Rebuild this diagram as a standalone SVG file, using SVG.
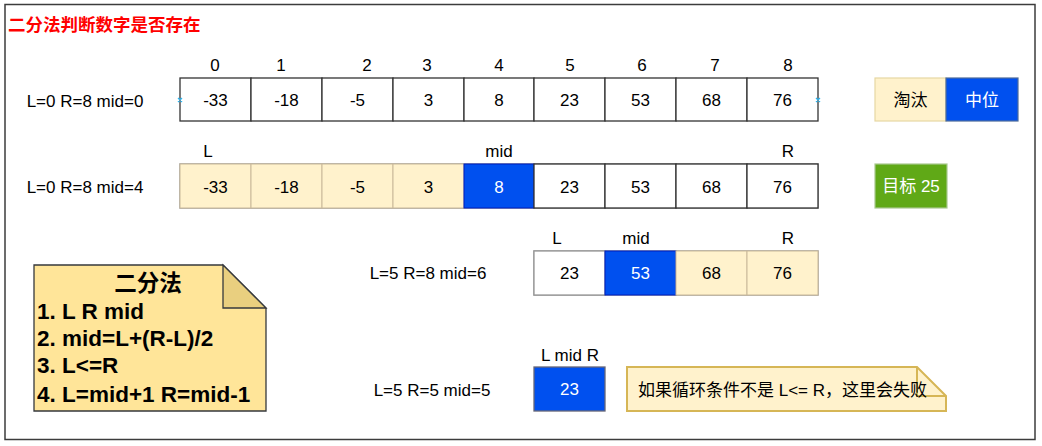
<svg xmlns="http://www.w3.org/2000/svg" width="1042" height="446" viewBox="0 0 1042 446">
<style>
text{font-family:"Liberation Sans",Arial,"Noto Sans CJK SC",sans-serif;font-size:17px;fill:#000}
.c{text-anchor:middle;dominant-baseline:central}
.w{fill:#fff}
.cell{fill:#fff;stroke:#333;stroke-width:1.3}
.elim{fill:#fff2cc;stroke:#c9b99a;stroke-width:1}
.mid{fill:#0050ef;stroke:#001dbc;stroke-width:1}
.nb{font-size:22.5px;font-weight:bold}
.x{stroke:#29b6f2;stroke-width:1.2}
</style>
<rect x="5" y="4.5" width="1030" height="435" fill="#fff" stroke="#3c3c3c" stroke-width="1.5"/>
<text x="8" y="31" style="font-size:17.5px;font-weight:bold;fill:#ff0000">二分法判断数字是否存在</text>

<g id="row1">
<text class="c" x="215" y="65">0</text><text class="c" x="281" y="65">1</text><text class="c" x="367" y="65">2</text><text class="c" x="427" y="65">3</text><text class="c" x="499" y="65">4</text><text class="c" x="570" y="65">5</text><text class="c" x="642" y="65">6</text><text class="c" x="715" y="65">7</text><text class="c" x="788" y="65">8</text>
<text class="c" x="85" y="101">L=0 R=8 mid=0</text>
<rect class="cell" x="180" y="78" width="71" height="43"/><text class="c" x="215.5" y="100">-33</text>
<rect class="cell" x="251" y="78" width="71" height="43"/><text class="c" x="286.5" y="100">-18</text>
<rect class="cell" x="322" y="78" width="71" height="43"/><text class="c" x="357.5" y="100">-5</text>
<rect class="cell" x="393" y="78" width="71" height="43"/><text class="c" x="428.5" y="100">3</text>
<rect class="cell" x="464" y="78" width="70" height="43"/><text class="c" x="499" y="100">8</text>
<rect class="cell" x="534" y="78" width="71" height="43"/><text class="c" x="569.5" y="100">23</text>
<rect class="cell" x="605" y="78" width="71" height="43"/><text class="c" x="640.5" y="100">53</text>
<rect class="cell" x="676" y="78" width="71" height="43"/><text class="c" x="711.5" y="100">68</text>
<rect class="cell" x="747" y="78" width="71" height="43"/><text class="c" x="782.5" y="100">76</text>
<path class="x" d="M178 98l4 4M182 98l-4 4M816 98l4 4M820 98l-4 4"/>
</g>

<g id="row2">
<text class="c" x="208" y="151">L</text><text class="c" x="499" y="151">mid</text><text class="c" x="788" y="151">R</text>
<text class="c" x="85" y="187">L=0 R=8 mid=4</text>
<rect x="180" y="164" width="638" height="44" fill="none" stroke="#999" stroke-width="1.5"/>
<rect class="elim" x="180" y="164" width="71" height="44"/><text class="c" x="215.5" y="187">-33</text>
<rect class="elim" x="251" y="164" width="71" height="44"/><text class="c" x="286.5" y="187">-18</text>
<rect class="elim" x="322" y="164" width="71" height="44"/><text class="c" x="357.5" y="187">-5</text>
<rect class="elim" x="393" y="164" width="71" height="44"/><text class="c" x="428.5" y="187">3</text>
<rect class="mid" x="464" y="164" width="70" height="44"/><text class="c w" x="499" y="187">8</text>
<rect class="cell" x="534" y="164" width="71" height="44"/><text class="c" x="569.5" y="187">23</text>
<rect class="cell" x="605" y="164" width="71" height="44"/><text class="c" x="640.5" y="187">53</text>
<rect class="cell" x="676" y="164" width="71" height="44"/><text class="c" x="711.5" y="187">68</text>
<rect class="cell" x="747" y="164" width="71" height="44"/><text class="c" x="782.5" y="187">76</text>
</g>

<g id="row3">
<text class="c" x="557" y="238">L</text><text class="c" x="636" y="238">mid</text><text class="c" x="788" y="238">R</text>
<text class="c" x="428" y="273">L=5 R=8 mid=6</text>
<rect x="534" y="251" width="284" height="44" fill="none" stroke="#999" stroke-width="1.5"/>
<rect class="cell" x="534" y="251" width="71" height="44" style="stroke:#999"/><text class="c" x="569.5" y="273">23</text>
<rect class="mid" x="605" y="251" width="71" height="44"/><text class="c w" x="640.5" y="273">53</text>
<rect class="elim" x="676" y="251" width="71" height="44"/><text class="c" x="711.5" y="273">68</text>
<rect class="elim" x="747" y="251" width="71" height="44"/><text class="c" x="782.5" y="273">76</text>
</g>

<g id="row4">
<text class="c" x="570" y="355">L mid R</text>
<text class="c" x="432" y="390">L=5 R=5 mid=5</text>
<rect x="534" y="367" width="71" height="44" fill="#0050ef" stroke="#667" stroke-width="1.3"/><text class="c w" x="569.5" y="389">23</text>
</g>

<g id="legend">
<rect x="875" y="78" width="71" height="43" fill="#fff2cc" stroke="#e6d7a3" stroke-width="1.2"/><text class="c" x="910.5" y="100">淘汰</text>
<rect x="946" y="78" width="72" height="43" fill="#0050ef" stroke="#4d6b9a" stroke-width="1.2"/><text class="c w" x="982" y="100">中位</text>
<rect x="875" y="164" width="72" height="44" fill="#60a917" stroke="#a9c98f" stroke-width="1.2"/><text class="c w" x="911" y="186">目标 25</text>
</g>

<g id="note1">
<path d="M34 265H223L266 308V411H34Z" fill="#ffe599" stroke="#36393d" stroke-width="1.3"/>
<path d="M223 265V308H266Z" fill="#e9cf7f" stroke="#36393d" stroke-width="1.3"/>
<text class="nb" x="148" y="291" text-anchor="middle">二分法</text>
<text class="nb" x="37" y="319">1. L R mid</text>
<text class="nb" x="37" y="346">2. mid=L+(R-L)/2</text>
<text class="nb" x="37" y="373">3. L&lt;=R</text>
<text class="nb" x="37" y="402">4. L=mid+1 R=mid-1</text>
</g>

<g id="note2">
<path d="M627 367H917L946 396V411H627Z" fill="#fff2cc" stroke="#d6b656" stroke-width="2"/>
<path d="M917 367V396H946" fill="none" stroke="#d6b656" stroke-width="2"/>
<text x="638" y="396">如果循环条件不是 L&lt;= R，这里会失败</text>
</g>
</svg>
